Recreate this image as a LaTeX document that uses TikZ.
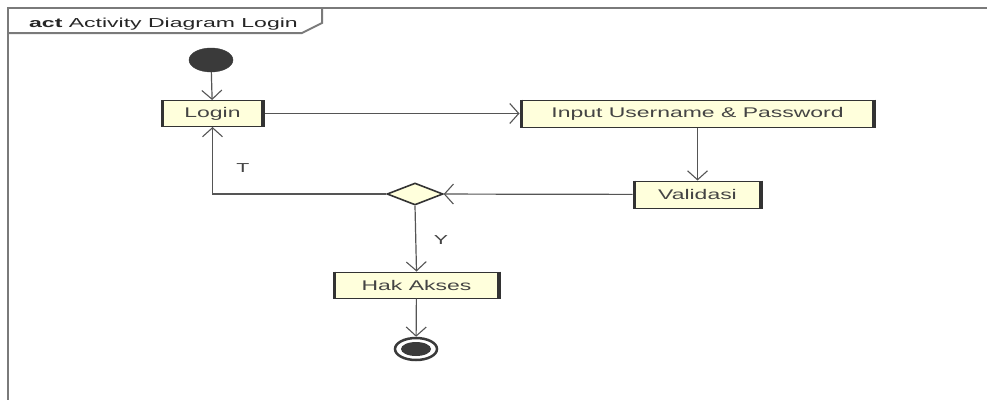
\documentclass[tikz,border=0pt]{standalone}
\usepackage{fontspec}
\setmainfont{Liberation Sans}
\newfontfamily\umlfont{Liberation Sans}[FakeStretch=1.64]
\newfontfamily\titlefont{Liberation Sans}[FakeStretch=1.77]
\usetikzlibrary{arrows.meta,shapes.geometric}
\definecolor{boxfill}{HTML}{FFFFDC}
\definecolor{edge}{HTML}{333333}
\definecolor{wire}{HTML}{555555}
\definecolor{frame}{HTML}{7A7A7A}
\definecolor{txt}{HTML}{444444}
\definecolor{blob}{HTML}{3A3A3A}
\tikzset{
  actbox/.style={draw=edge, line width=1pt, fill=boxfill, inner sep=0pt, text=txt,
    font=\umlfont\fontsize{14}{14}\selectfont},
  flow/.style={draw=wire, line width=1.2pt, -{Straight Barb[length=9pt,width=20pt,line width=1.1pt]}},
  lab/.style={text=txt, font=\umlfont\fontsize{13}{13}\selectfont},
}
\begin{document}
\begin{tikzpicture}[x=1pt,y=-1pt]
\useasboundingbox (0,0) rectangle (987,400);
\fill[white] (0,0) rectangle (987,400);
% frame
\draw[frame, line width=2pt] (987,8) -- (8,8) -- (8,400);
\draw[frame, line width=2pt] (8,33) -- (302,33) -- (322,23) -- (322,8);
\node[anchor=base west, text=black!85, inner sep=0pt] (title) at (29,27)
  {\titlefont\fontsize{13}{13}\selectfont\textbf{act} Activity Diagram Login};
% nodes
\node[draw=blob, fill=blob, ellipse, minimum width=44pt, minimum height=24pt, inner sep=0pt] (start) at (211,60) {};
\node[actbox, minimum width=103pt, minimum height=26pt] (login) at (212.5,113.5) {Login};
\node[actbox, minimum width=355pt, minimum height=27pt] (input) at (697.5,113.5) {Input Username \& Password};
\node[actbox, minimum width=129pt, minimum height=27pt] (valid) at (697.5,194.5) {Validasi};
\node[draw=edge, line width=1.6pt, fill=boxfill, diamond, minimum width=56pt, minimum height=22pt, inner sep=0pt, aspect=2.5] (dec) at (415,194) {};
\node[actbox, minimum width=167pt, minimum height=26pt] (hak) at (416.5,285) {Hak Akses};
\node[draw=blob, line width=2.5pt, fill=white, ellipse, minimum width=42pt, minimum height=22pt, inner sep=0pt] (end) at (416,349) {};
\fill[blob] (end.center) ellipse [x radius=15, y radius=7];
% thick sides
\foreach \n in {login,input,valid,hak}{
  \draw[edge, line width=3.5pt] ([xshift=1.75pt]\n.north west) -- ([xshift=1.75pt]\n.south west);
  \draw[edge, line width=3.5pt] ([xshift=-1.75pt]\n.north east) -- ([xshift=-1.75pt]\n.south east);
}
% connectors
\draw[flow] (start) -- (login);
\draw[flow] (login) -- (input);
\draw[flow] (input) -- (valid);
\draw[flow] (valid) -- (dec);
\draw[flow] (dec.west) -| (login.south);
\draw[flow] (dec.south) -- (hak.north);
\draw[flow] (hak) -- (end);
% labels
\node[lab] (t) at (243,168) {T};
\node[lab] (y) at (441,240) {Y};
\end{tikzpicture}
\end{document}
